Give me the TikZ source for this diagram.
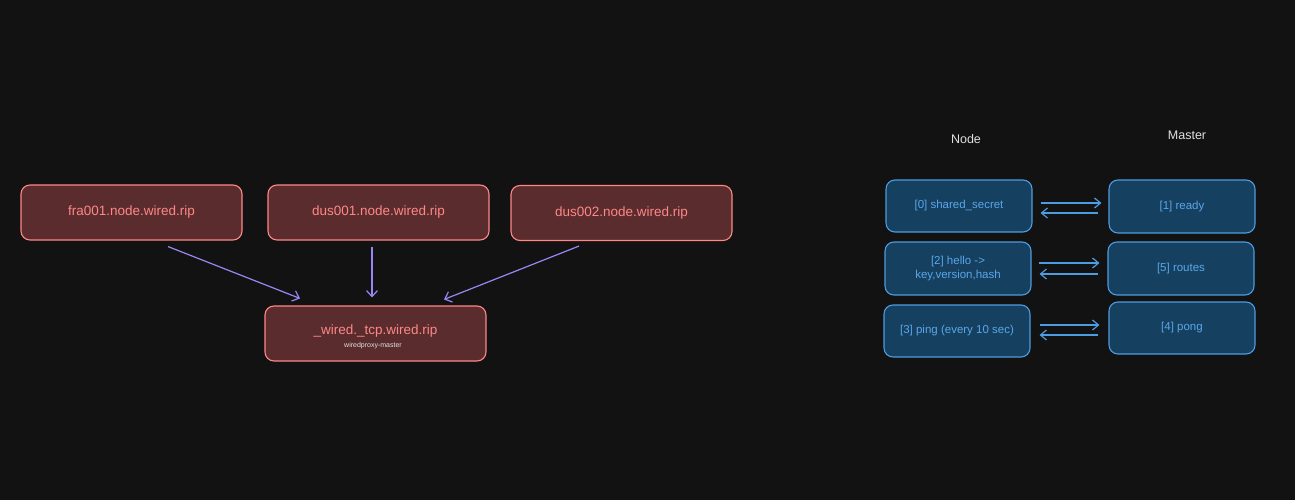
\documentclass[tikz,border=0pt]{standalone}
\usepackage{fontspec}
\setmainfont{Liberation Sans}
\usetikzlibrary{arrows.meta,calc}
\definecolor{bg}{HTML}{121212}
\definecolor{redfill}{HTML}{5A2C2D}
\definecolor{redline}{HTML}{FF8787}
\definecolor{bluefill}{HTML}{15405F}
\definecolor{blueline}{HTML}{4D9BE0}
\definecolor{bluetext}{HTML}{5AA6EA}
\definecolor{purp}{HTML}{9B86F5}
\definecolor{head}{HTML}{E0E0E0}
\tikzset{
  redbox/.style={draw=redline, fill=redfill, line width=1.1pt, rounded corners=9pt,
    minimum width=221pt, minimum height=55pt, text=redline, font=\fontsize{13.5}{15}\selectfont, inner sep=0pt},
  bluebox/.style={draw=blueline, fill=bluefill, line width=1.1pt, rounded corners=9pt,
    minimum width=146pt, minimum height=52pt, text=bluetext, font=\fontsize{11.5}{14}\selectfont, inner sep=0pt, align=center},
  purparrow/.style={draw=purp, line width=1.2pt, -{Straight Barb[length=6pt,width=11pt]}},
  bluearrow/.style={draw=blueline, line width=1.2pt, -{Straight Barb[length=6pt,width=10pt]}},
  headtext/.style={text=head, font=\fontsize{12.5}{14}\selectfont}
}
\begin{document}
\begin{tikzpicture}[x=1pt,y=-1pt]
\fill[bg] (0,0) rectangle (1295,500);
\useasboundingbox (0,0) rectangle (1295,500);
% red nodes
\node[redbox] (fra) at (131.5,212.5) {fra001.node.wired.rip};
\node[redbox] (dus1) at (378.5,212.5) {dus001.node.wired.rip};
\node[redbox] (dus2) at (621.5,213) {dus002.node.wired.rip};
\node[redbox] (wired) at (375.5,333.5) {};
\node[text=redline, font=\fontsize{13.5}{15}\selectfont] (wiredt) at (375.5,331) {\_wired.\_tcp.wired.rip};
\node[text=head, font=\fontsize{7}{8}\selectfont] (wiredsub) at (373,346) {wiredproxy-master};
\draw[purparrow] ($(fra.south)+(36.5,6)$) -- ($(wired.north)+(-75.5,-7)$);
\draw[purparrow] ($(dus1.south)+(-6.5,6)$) -- ($(wired.north)+(-3.5,-8)$);
\draw[purparrow] ($(dus2.south)+(-42.5,5)$) -- ($(wired.north)+(68.5,-6)$);
% headers
\node[headtext] (hnode) at (966,139) {Node};
\node[headtext] (hmaster) at (1187,135) {Master};
% blue nodes
\node[bluebox] (b0) at (959,206) {[0] shared\_secret};
\node[bluebox, minimum height=53pt] (b1) at (1182,206.5) {[1] ready};
\node[bluebox, minimum height=53pt] (b2) at (958,268.5) {[2] hello ->\\key,version,hash};
\node[bluebox, minimum height=53pt] (b5) at (1181,268.5) {[5] routes};
\node[bluebox] (b3) at (957,331) {[3] ping (every 10 sec)};
\node[bluebox] (b4) at (1182,328) {[4] pong};
% blue arrows
\draw[bluearrow, shorten <=8pt, shorten >=7pt] ([yshift=3pt]b0.east) -- ([yshift=3.5pt]b1.west);
\draw[bluearrow, shorten <=10pt, shorten >=8pt] ([yshift=-6.5pt]b1.west) -- ([yshift=-7pt]b0.east);
\draw[bluearrow, shorten <=7pt, shorten >=8pt] ([yshift=5.5pt]b2.east) -- ([yshift=5.5pt]b5.west);
\draw[bluearrow, shorten <=9pt, shorten >=8pt] ([yshift=-5.5pt]b5.west) -- ([yshift=-5.5pt]b2.east);
\draw[bluearrow, shorten <=9pt, shorten >=9pt] ([yshift=6pt]b3.east) -- ([yshift=3pt]b4.west);
\draw[bluearrow, shorten <=10pt, shorten >=9pt] ([yshift=-7pt]b4.west) -- ([yshift=-4pt]b3.east);
\end{tikzpicture}
\end{document}
